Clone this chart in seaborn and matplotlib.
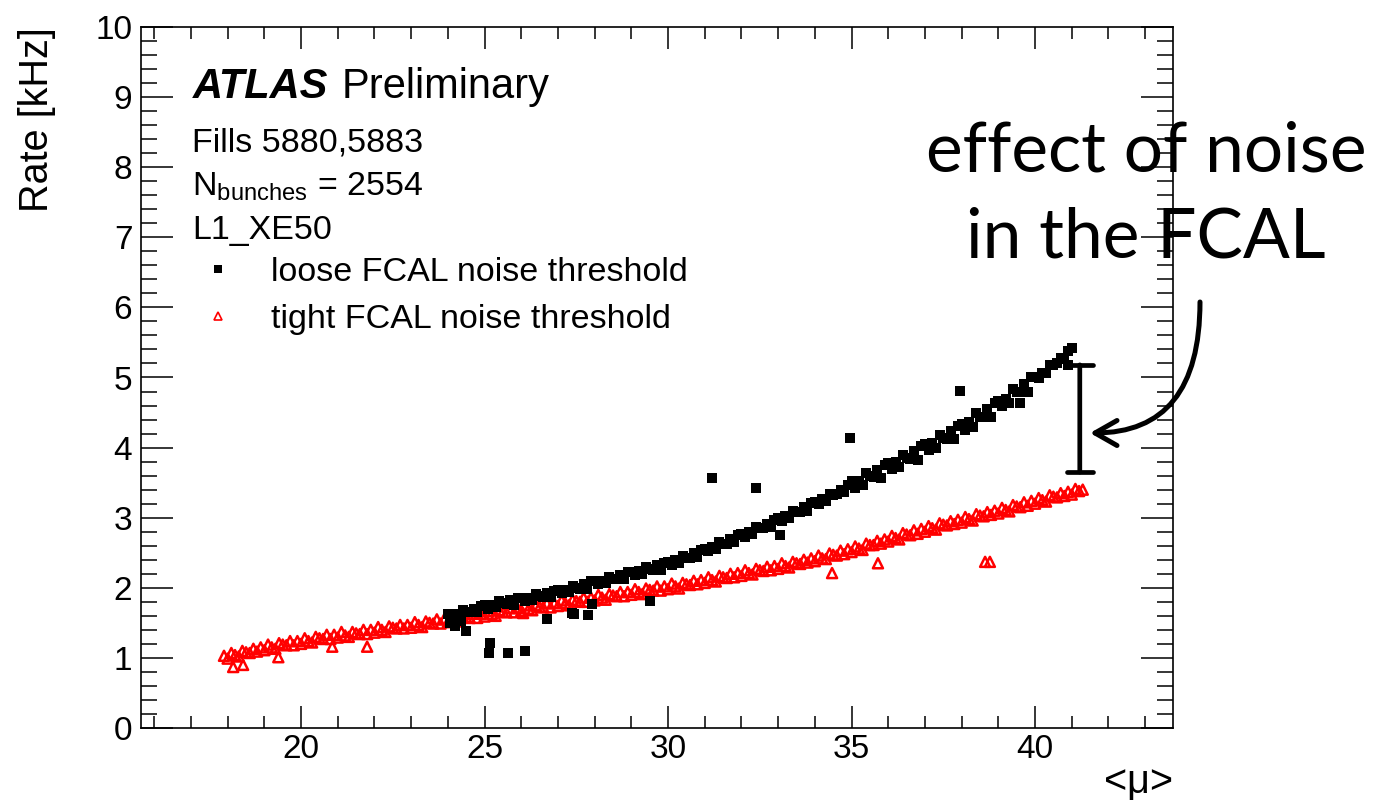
import matplotlib
matplotlib.use("Agg")
import matplotlib.pyplot as plt
from matplotlib.ticker import MultipleLocator
from matplotlib.lines import Line2D
from matplotlib.patches import FancyArrowPatch
import pandas as pd
import seaborn as sns

# ---------------- data ----------------
loose_mu = [
    24.0, 24.1, 24.2, 24.3, 24.4, 24.5, 24.6, 24.7, 24.8, 24.9,
    25.0, 25.1, 25.2, 25.3, 25.4, 25.5, 25.6, 25.7, 25.8, 25.9,
    26.0, 26.1, 26.2, 26.3, 26.4, 26.5, 26.6, 26.7, 26.8, 26.9,
    27.0, 27.1, 27.2, 27.3, 27.4, 27.5, 27.6, 27.7, 27.8, 27.9,
    28.0, 28.1, 28.2, 28.3, 28.4, 28.5, 28.6, 28.7, 28.8, 28.9,
    29.0, 29.1, 29.2, 29.3, 29.4, 29.5, 29.6, 29.7, 29.8, 29.9,
    30.0, 30.1, 30.2, 30.3, 30.4, 30.5, 30.6, 30.7, 30.8, 30.9,
    31.0, 31.1, 31.2, 31.3, 31.4, 31.5, 31.6, 31.7, 31.8, 31.9,
    32.0, 32.1, 32.2, 32.3, 32.4, 32.5, 32.6, 32.7, 32.8, 32.9,
    33.0, 33.1, 33.2, 33.3, 33.4, 33.5, 33.6, 33.7, 33.8, 33.9,
    34.0, 34.1, 34.2, 34.3, 34.4, 34.5, 34.6, 34.7, 34.8, 34.9,
    35.0, 35.1, 35.2, 35.3, 35.4, 35.5, 35.6, 35.7, 35.8, 35.9,
    36.0, 36.1, 36.2, 36.3, 36.4, 36.5, 36.6, 36.7, 36.8, 36.9,
    37.0, 37.1, 37.2, 37.3, 37.4, 37.5, 37.6, 37.7, 37.8, 37.9,
    38.0, 38.1, 38.2, 38.3, 38.4, 38.5, 38.6, 38.7, 38.8, 38.9,
    39.0, 39.1, 39.2, 39.3, 39.4, 39.5, 39.6, 39.7, 39.8, 39.9,
    40.0, 40.1, 40.2, 40.3, 40.4, 40.5, 40.6, 40.7, 40.8, 40.9,
    41.0,
]
loose_rate = [
    1.63, 1.58, 1.63, 1.60, 1.69, 1.66, 1.65, 1.70, 1.65, 1.74,
    1.75, 1.70, 1.75, 1.72, 1.81, 1.78, 1.77, 1.82, 1.76, 1.85,
    1.86, 1.81, 1.86, 1.82, 1.91, 1.88, 1.87, 1.92, 1.87, 1.96,
    1.97, 1.92, 1.97, 1.94, 2.03, 2.00, 1.99, 2.05, 1.99, 2.09,
    2.10, 2.05, 2.10, 2.07, 2.16, 2.13, 2.12, 2.18, 2.12, 2.22,
    2.23, 2.18, 2.24, 2.20, 2.30, 2.27, 2.26, 2.32, 2.26, 2.36,
    2.37, 2.33, 2.39, 2.35, 2.45, 2.43, 2.43, 2.49, 2.44, 2.54,
    2.56, 2.52, 2.58, 2.55, 2.65, 2.63, 2.63, 2.69, 2.65, 2.75,
    2.77, 2.73, 2.79, 2.77, 2.87, 2.85, 2.85, 2.91, 2.87, 2.97,
    2.99, 2.95, 3.02, 2.99, 3.10, 3.08, 3.08, 3.15, 3.10, 3.21,
    3.23, 3.20, 3.26, 3.24, 3.34, 3.33, 3.34, 3.40, 3.36, 3.46,
    3.52, 3.43, 3.53, 3.46, 3.64, 3.59, 3.58, 3.68, 3.57, 3.75,
    3.78, 3.69, 3.79, 3.72, 3.90, 3.85, 3.84, 3.95, 3.83, 4.02,
    4.05, 3.96, 4.07, 3.99, 4.18, 4.13, 4.12, 4.23, 4.12, 4.31,
    4.34, 4.25, 4.36, 4.30, 4.49, 4.44, 4.43, 4.55, 4.44, 4.64,
    4.67, 4.59, 4.70, 4.64, 4.83, 4.79, 4.79, 4.91, 4.80, 5.00,
    5.01, 4.99, 5.07, 5.06, 5.18, 5.18, 5.20, 5.28, 5.26, 5.38,
    5.42,
]
loose_out_mu = [24.05, 24.2, 24.35, 24.5, 25.13, 25.15, 25.64, 26.1, 26.7,
                27.38, 27.45, 27.82, 27.93, 29.5, 31.2, 32.4, 33.05, 34.96,
                37.96, 39.6, 40.9]
loose_out_rate = [1.50, 1.45, 1.52, 1.38, 1.07, 1.21, 1.07, 1.10, 1.55,
                  1.64, 1.62, 1.61, 1.77, 1.81, 3.57, 3.42, 2.75, 4.14,
                  4.81, 4.63, 5.18]

tight_mu = [
    17.9, 18.0, 18.1, 18.2, 18.3, 18.4, 18.5, 18.6, 18.7, 18.8,
    18.9, 19.0, 19.1, 19.2, 19.3, 19.4, 19.5, 19.6, 19.7, 19.8,
    19.9, 20.0, 20.1, 20.2, 20.3, 20.4, 20.5, 20.6, 20.7, 20.8,
    20.9, 21.0, 21.1, 21.2, 21.3, 21.4, 21.5, 21.6, 21.7, 21.8,
    21.9, 22.0, 22.1, 22.2, 22.3, 22.4, 22.5, 22.6, 22.7, 22.8,
    22.9, 23.0, 23.1, 23.2, 23.3, 23.4, 23.5, 23.6, 23.7, 23.8,
    23.9, 24.0, 24.1, 24.2, 24.3, 24.4, 24.5, 24.6, 24.7, 24.8,
    24.9, 25.0, 25.1, 25.2, 25.3, 25.4, 25.5, 25.6, 25.7, 25.8,
    25.9, 26.0, 26.1, 26.2, 26.3, 26.4, 26.5, 26.6, 26.7, 26.8,
    26.9, 27.0, 27.1, 27.2, 27.3, 27.4, 27.5, 27.6, 27.7, 27.8,
    27.9, 28.0, 28.1, 28.2, 28.3, 28.4, 28.5, 28.6, 28.7, 28.8,
    28.9, 29.0, 29.1, 29.2, 29.3, 29.4, 29.5, 29.6, 29.7, 29.8,
    29.9, 30.0, 30.1, 30.2, 30.3, 30.4, 30.5, 30.6, 30.7, 30.8,
    30.9, 31.0, 31.1, 31.2, 31.3, 31.4, 31.5, 31.6, 31.7, 31.8,
    31.9, 32.0, 32.1, 32.2, 32.3, 32.4, 32.5, 32.6, 32.7, 32.8,
    32.9, 33.0, 33.1, 33.2, 33.3, 33.4, 33.5, 33.6, 33.7, 33.8,
    33.9, 34.0, 34.1, 34.2, 34.3, 34.4, 34.5, 34.6, 34.7, 34.8,
    34.9, 35.0, 35.1, 35.2, 35.3, 35.4, 35.5, 35.6, 35.7, 35.8,
    35.9, 36.0, 36.1, 36.2, 36.3, 36.4, 36.5, 36.6, 36.7, 36.8,
    36.9, 37.0, 37.1, 37.2, 37.3, 37.4, 37.5, 37.6, 37.7, 37.8,
    37.9, 38.0, 38.1, 38.2, 38.3, 38.4, 38.5, 38.6, 38.7, 38.8,
    38.9, 39.0, 39.1, 39.2, 39.3, 39.4, 39.5, 39.6, 39.7, 39.8,
    39.9, 40.0, 40.1, 40.2, 40.3, 40.4, 40.5, 40.6, 40.7, 40.8,
    40.9, 41.0, 41.1, 41.2, 41.3,
]
tight_rate = [
    1.03, 0.99, 1.07, 1.04, 1.02, 1.10, 1.08, 1.07, 1.13, 1.09,
    1.15, 1.11, 1.19, 1.15, 1.13, 1.21, 1.19, 1.18, 1.24, 1.18,
    1.24, 1.20, 1.28, 1.24, 1.22, 1.30, 1.28, 1.27, 1.33, 1.27,
    1.33, 1.29, 1.37, 1.32, 1.30, 1.37, 1.35, 1.34, 1.40, 1.34,
    1.40, 1.36, 1.44, 1.40, 1.37, 1.45, 1.43, 1.42, 1.47, 1.42,
    1.47, 1.43, 1.51, 1.47, 1.44, 1.52, 1.50, 1.49, 1.55, 1.49,
    1.55, 1.51, 1.59, 1.55, 1.52, 1.60, 1.58, 1.57, 1.63, 1.57,
    1.63, 1.59, 1.67, 1.63, 1.60, 1.68, 1.66, 1.65, 1.71, 1.65,
    1.71, 1.67, 1.75, 1.70, 1.68, 1.75, 1.73, 1.72, 1.78, 1.72,
    1.78, 1.74, 1.82, 1.78, 1.75, 1.83, 1.81, 1.80, 1.86, 1.80,
    1.86, 1.82, 1.90, 1.86, 1.83, 1.91, 1.89, 1.88, 1.94, 1.88,
    1.94, 1.90, 1.98, 1.94, 1.91, 1.99, 1.97, 1.96, 2.02, 1.96,
    2.02, 1.98, 2.06, 2.02, 1.99, 2.07, 2.05, 2.04, 2.10, 2.05,
    2.11, 2.07, 2.15, 2.11, 2.09, 2.17, 2.15, 2.14, 2.20, 2.15,
    2.21, 2.17, 2.25, 2.21, 2.19, 2.27, 2.25, 2.24, 2.30, 2.25,
    2.31, 2.27, 2.35, 2.31, 2.29, 2.37, 2.35, 2.34, 2.40, 2.36,
    2.42, 2.38, 2.46, 2.42, 2.41, 2.49, 2.47, 2.46, 2.53, 2.48,
    2.55, 2.51, 2.59, 2.56, 2.54, 2.63, 2.61, 2.61, 2.67, 2.63,
    2.69, 2.66, 2.74, 2.71, 2.69, 2.78, 2.76, 2.75, 2.82, 2.77,
    2.84, 2.80, 2.88, 2.85, 2.83, 2.92, 2.90, 2.89, 2.95, 2.91,
    2.97, 2.93, 3.01, 2.98, 2.96, 3.05, 3.03, 3.02, 3.08, 3.04,
    3.10, 3.06, 3.14, 3.11, 3.09, 3.18, 3.16, 3.15, 3.22, 3.17,
    3.24, 3.20, 3.28, 3.25, 3.23, 3.32, 3.30, 3.29, 3.35, 3.31,
    3.37, 3.33, 3.41, 3.38, 3.40,
]
tight_out_mu = [18.15, 18.42, 19.38, 20.85, 21.8, 26.05, 34.47, 35.72, 38.64, 38.77]
tight_out_rate = [0.87, 0.90, 1.01, 1.16, 1.16, 1.64, 2.21, 2.35, 2.37, 2.37]

series_labels = ["loose FCAL noise threshold", "tight FCAL noise threshold"]
info_lines = ["Fills 5880,5883", r"N$_{\mathrm{bunches}}$ = 2554", "L1_XE50"]
x_title = "<\u03bc>"
y_title = "Rate [kHz]"
annot_lines = ["effect of noise", "in the FCAL"]

# ---------------- style ----------------
sns.set_style("ticks")
plt.rcParams["font.family"] = ["Liberation Sans", "DejaVu Sans"]
plt.rcParams["mathtext.fontset"] = "custom"
plt.rcParams["mathtext.rm"] = "Liberation Sans"
plt.rcParams["mathtext.it"] = "Liberation Sans:italic"
plt.rcParams["mathtext.bf"] = "Liberation Sans:bold"
for key in ["text.color", "axes.labelcolor", "xtick.color", "ytick.color",
            "axes.edgecolor"]:
    plt.rcParams[key] = "black"

W, H = 1373, 800
fig = plt.figure(figsize=(W / 100, H / 100), dpi=100)
fig.patch.set_facecolor("white")
ax_l, ax_r, ax_t, ax_b = 140.7, 1173.0, 27.0, 728.0
ax = fig.add_axes([ax_l / W, 1 - ax_b / H, (ax_r - ax_l) / W, (ax_b - ax_t) / H])
ax.set_facecolor("white")

df_loose = pd.DataFrame({"mu": loose_mu + loose_out_mu,
                         "rate": loose_rate + loose_out_rate})
df_tight = pd.DataFrame({"mu": tight_mu + tight_out_mu,
                         "rate": tight_rate + tight_out_rate})

sns.scatterplot(data=df_tight, x="mu", y="rate", ax=ax, marker="^", s=52,
                color="red", facecolor="none", edgecolor="red",
                linewidth=1.8, zorder=2)
sns.scatterplot(data=df_loose, x="mu", y="rate", ax=ax, marker="s", s=44,
                color="black", edgecolor="black", linewidth=0, zorder=3)

ax.set_xlim(15.63, 43.76)
ax.set_ylim(0, 10)
ax.xaxis.set_major_locator(MultipleLocator(5))
ax.xaxis.set_minor_locator(MultipleLocator(1))
ax.yaxis.set_major_locator(MultipleLocator(1))
ax.yaxis.set_minor_locator(MultipleLocator(0.2))
for sp in ax.spines.values():
    sp.set_visible(True)
    sp.set_linewidth(1.2)
    sp.set_color("black")
ax.tick_params(axis="x", which="major", direction="in", top=True, bottom=True,
               length=16, width=1.1, labelsize=24, pad=4, colors="black")
ax.tick_params(axis="x", which="minor", direction="in", top=True, bottom=True,
               length=8.5, width=1.1, colors="black")
ax.tick_params(axis="y", which="major", direction="in", left=True, right=True,
               length=23, width=1.1, labelsize=24, pad=6, colors="black")
ax.tick_params(axis="y", which="minor", direction="in", left=True, right=True,
               length=11.5, width=1.1, colors="black")

ax.set_xlabel(x_title, fontsize=28.5, loc="right", color="black")
ax.xaxis.set_label_coords(1.0, -0.051)
ax.set_ylabel(y_title, fontsize=28.5, loc="top", color="black")
ax.yaxis.set_label_coords(-0.0825, 1.0)

# ---------------- header texts ----------------
def fx(px):
    return px / W

def fy(py):
    return 1 - py / H

fig.text(fx(193), fy(98), "ATLAS", fontsize=30, fontweight="bold",
         fontstyle="italic", va="baseline", ha="left", color="black")
fig.text(fx(342), fy(98), "Preliminary", fontsize=30, va="baseline", ha="left",
         color="black")
for txt, base in zip(info_lines, [152, 196, 239]):
    fig.text(fx(192), fy(base), txt, fontsize=24.5, va="baseline", ha="left",
             color="black")

handles = [
    Line2D([], [], marker="s", color="black", linestyle="none", markersize=5.5,
           markeredgewidth=0),
    Line2D([], [], marker="^", color="red", linestyle="none", markersize=5.5,
           markerfacecolor="none", markeredgecolor="red", markeredgewidth=1.2),
]
leg = ax.legend(handles, series_labels, loc="upper left",
                bbox_to_anchor=(fx(184), fy(257)), bbox_transform=fig.transFigure,
                frameon=False, fontsize=24.5, borderpad=0, borderaxespad=0,
                handlelength=2.0, handletextpad=0.56, labelspacing=0.46,
                numpoints=1)
for t in leg.get_texts():
    t.set_color("black")

# ---------------- annotation ----------------
for txt, base in zip(annot_lines, [172, 258]):
    fig.text(fx(1146), fy(base), txt, fontsize=50, family=["Lato", "DejaVu Sans"],
             ha="center", va="baseline", color="black", zorder=1)

ax.annotate("", xy=(41.22, 5.18), xytext=(41.22, 3.65),
            arrowprops=dict(arrowstyle="|-|,widthA=0.94,widthB=0.94",
                            lw=3.4, color="black", shrinkA=0, shrinkB=0,
                            mutation_scale=10))

arrow = FancyArrowPatch(posA=(fx(1200), fy(302)), posB=(fx(1090), fy(433)),
                        transform=fig.transFigure,
                        connectionstyle="angle3,angleA=90,angleB=0",
                        arrowstyle="->,head_length=0.79,head_width=0.45",
                        mutation_scale=20, lw=3.6, color="black",
                        shrinkA=0, shrinkB=0)
fig.patches.append(arrow)

fig.savefig("out.png", dpi=100, facecolor="white")
